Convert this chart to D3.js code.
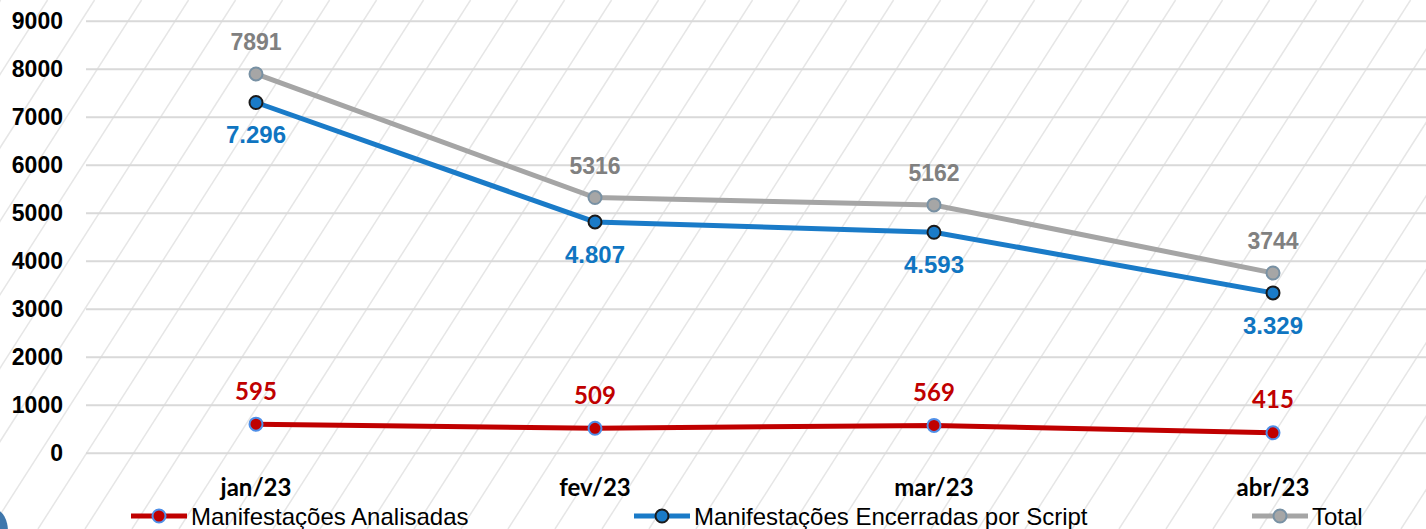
<!DOCTYPE html>
<html lang="pt">
<head>
  <meta charset="UTF-8" />
  <title>Manifestações</title>
  <script src="https://d3js.org/d3.v7.min.js"></script>
  <style>
    html, body { margin: 0; padding: 0; background: #fff; }
    svg { display: block; }
  </style>
</head>
<body>
  <svg id="chart"></svg>
  <script>
    // ---------------------------------------------------------
    // Data
    // ---------------------------------------------------------
    const months = ["jan/23", "fev/23", "mar/23", "abr/23"];
    const analisadas = [595, 509, 569, 415];
    const encerradas = [7296, 4807, 4593, 3329];
    const total = [7891, 5316, 5162, 3744];
    const yTicks = [0, 1000, 2000, 3000, 4000, 5000, 6000, 7000, 8000, 9000];

    const width = 1426, height = 529;
    const svg = d3.select("#chart").attr("width", width).attr("height", height);

    // background hatch (decoration)
    const hatch = svg.append("g");
    for (let x0 = -385; x0 < width + 50; x0 += 47) {
      hatch.append("line")
        .attr("x1", x0).attr("y1", height)
        .attr("x2", x0 + height * 0.64).attr("y2", 0)
        .attr("stroke", "#e6e6e6").attr("stroke-width", 1.5);
    }

    // scales
    const x = d3.scaleBand().domain(months).range([86.5, 1442.5]);
    const xc = d => x(d) + x.bandwidth() / 2;
    const y = d3.scaleLinear().domain([0, 9000]).range([452.7, 20.7]);

    // gridlines + y labels
    const yAxis = d3.axisLeft(y).tickValues(yTicks).tickFormat(d3.format("d"))
      .tickSize(-(width - 86)).tickPadding(23);
    const ga = svg.append("g").attr("transform", "translate(86,0)").call(yAxis);
    ga.select(".domain").remove();
    ga.selectAll(".tick line").attr("stroke", "#d9d9d9").attr("stroke-width", 2);
    ga.selectAll(".tick text")
      .attr("fill", "#000").attr("font-family", "Liberation Sans, Arial, sans-serif")
      .attr("font-weight", "bold").attr("font-size", 23).attr("dy", "0.36em");

    // x labels
    svg.append("g").selectAll("text").data(months).join("text")
      .attr("x", d => xc(d)).attr("y", 496)
      .attr("text-anchor", "middle")
      .attr("font-family", "Lato, 'Open Sans', sans-serif")
      .attr("font-weight", "bold").attr("font-size", 24)
      .text(d => d);

    const series = [
      { name: "Manifestações Analisadas", values: analisadas, line: "#c00000",
        fill: "#c00000", stroke: "#4f8fe8", label: "#c00000", off: -33,
        font: "Lato, 'Open Sans', sans-serif", fmt: d => d, size: 24 },
      { name: "Manifestações Encerradas por Script", values: encerradas, line: "#1a7bc8",
        fill: "#1a7bc8", stroke: "#1a1a1a", label: "#0f75c1", off: 32,
        font: "Liberation Sans, Arial, sans-serif", fmt: d => d3.format(",")(d).replace(",", "."), size: 24 },
      { name: "Total", values: total, line: "#a5a5a5",
        fill: "#a6a6a6", stroke: "#7891a4", label: "#808080", off: -32,
        font: "Liberation Sans, Arial, sans-serif", fmt: d => d, size: 23 }
    ];

    const line = d3.line().x((d, i) => xc(months[i])).y(d => y(d));

    series.forEach(s => {
      const g = svg.append("g");
      g.append("path").datum(s.values)
        .attr("d", line).attr("fill", "none")
        .attr("stroke", s.line).attr("stroke-width", 5);
      g.selectAll("circle").data(s.values).join("circle")
        .attr("cx", (d, i) => xc(months[i])).attr("cy", d => y(d)).attr("r", 6.5)
        .attr("fill", s.fill).attr("stroke", s.stroke).attr("stroke-width", 2);
      g.selectAll("text").data(s.values).join("text")
        .attr("x", (d, i) => xc(months[i])).attr("y", d => y(d) + s.off)
        .attr("dy", "0.36em").attr("text-anchor", "middle")
        .attr("font-family", s.font).attr("font-weight", "bold").attr("font-size", s.size)
        .attr("fill", s.label)
        .text(d => s.fmt(d));
    });

    // legend
    const legendX = [131, 634, 1252];
    const legY = 516;
    series.forEach((s, i) => {
      const lg = svg.append("g").attr("transform", `translate(${legendX[i]},${legY})`);
      lg.append("line").attr("x1", 0).attr("x2", 56).attr("y1", 0).attr("y2", 0)
        .attr("stroke", s.line).attr("stroke-width", 5);
      lg.append("circle").attr("cx", 28).attr("cy", 0).attr("r", 6.5)
        .attr("fill", s.fill).attr("stroke", s.stroke).attr("stroke-width", 2);
      lg.append("text").attr("x", 60).attr("y", 0).attr("dy", "0.36em")
        .attr("font-family", "Liberation Sans, Arial, sans-serif").attr("font-size", 24)
        .attr("fill", "#000").text(s.name);
    });

    // corner artifact
    svg.append("ellipse").attr("cx", -4).attr("cy", 532).attr("rx", 12).attr("ry", 22)
      .attr("fill", "#1d5f9e").attr("opacity", 0.85);
  </script>
</body>
</html>
